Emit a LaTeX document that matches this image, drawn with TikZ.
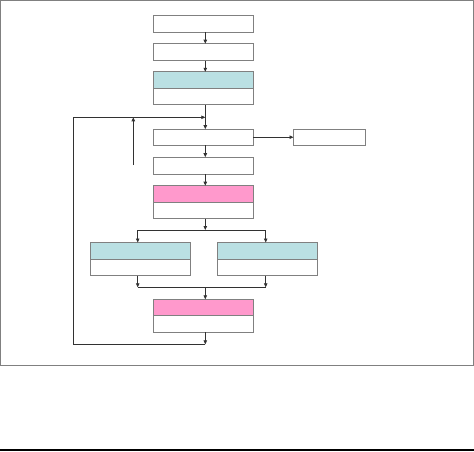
\documentclass[tikz,border=0pt]{standalone}
\usetikzlibrary{arrows.meta}
\definecolor{boxblue}{RGB}{186,224,227}
\definecolor{boxpink}{RGB}{255,153,204}
\definecolor{boxline}{RGB}{128,128,128}
\definecolor{conline}{RGB}{50,50,50}
\begin{document}
\begin{tikzpicture}[x=1pt,y=-1pt,
  box/.style={draw=boxline,line width=0.9pt,fill=white,minimum width=100pt,inner sep=0pt,outer sep=0pt},
  onebox/.style={box,minimum height=17pt},
  twobox/.style={box,minimum height=33pt},
  con/.style={draw=conline,line width=0.8pt},
  arr/.style={con,-{Triangle[length=4pt,width=3.5pt]}}]
\useasboundingbox (0,0) rectangle (474,451);
\draw[boxline,line width=1pt] (0.5,0.5) rectangle (473.5,365);
\draw[black,line width=1.5pt] (0,450) -- (474,450);
% boxes
\node[onebox] (b1) at (203.3,23.5) {};
\node[onebox] (b2) at (203.3,52.2) {};
\node[twobox] (b3) at (203.3,88.3) {};
\node[onebox,minimum height=16pt] (b4) at (203.3,137.2) {};
\node[onebox,minimum height=16pt,minimum width=72pt] (r) at (329.5,137.2) {};
\node[onebox] (b5) at (203.3,165.7) {};
\node[twobox] (b6) at (203.3,202.2) {};
\node[twobox] (b7) at (140,259) {};
\node[twobox] (b8) at (267.5,259) {};
\node[twobox] (b9) at (203.3,315.8) {};
% coloured top halves
\foreach \n/\c in {b3/boxblue,b6/boxpink,b7/boxblue,b8/boxblue,b9/boxpink}{
  \fill[\c] (\n.north west) rectangle (\n.east);
  \draw[boxline,line width=0.9pt] (\n.north west) rectangle (\n.south east);
  \draw[boxline,line width=0.9pt] (\n.west) -- (\n.east);
}
% junction coordinates
\coordinate (jtop) at (205.3,117.3);
\coordinate (jsplit) at (205.3,230);
\coordinate (jmerge) at (205.3,287.3);
\coordinate (jbot) at (205.3,344.3);
\coordinate (fl) at (73.3,344.3);
\coordinate (ft) at (73.3,117.3);
\coordinate (upb) at (133.3,165);
\coordinate (upt) at (133.3,117.3);
\coordinate (sl) at (137.7,230);
\coordinate (sr) at (265.7,230);
\coordinate (ml) at (137.7,287.3);
\coordinate (mr) at (265.7,287.3);
% connectors
\draw[arr] ([xshift=2pt]b1.south) -- ([xshift=2pt]b2.north);
\draw[arr] ([xshift=2pt]b2.south) -- ([xshift=2pt]b3.north);
\draw[arr] ([xshift=2pt]b3.south) -- ([xshift=2pt]b4.north);
\draw[arr] (b4.east) -- (r.west);
\draw[arr] ([xshift=2pt]b4.south) -- ([xshift=2pt]b5.north);
\draw[arr] ([xshift=2pt]b5.south) -- ([xshift=2pt]b6.north);
\draw[arr] ([xshift=2pt]b6.south) -- (jsplit);
\draw[con] (sl) -- (sr);
\draw[arr] (sl) -- (sl |- b7.north);
\draw[arr] (sr) -- (sr |- b8.north);
\draw[arr] (ml |- b7.south) -- (ml);
\draw[arr] (mr |- b8.south) -- (mr);
\draw[con] (ml) -- (mr);
\draw[arr] (jmerge) -- ([xshift=2pt]b9.north);
\draw[arr] ([xshift=2pt]b9.south) -- (jbot);
\draw[arr] (jbot) -- (fl) -- (ft) -- (jtop);
\draw[arr] (upb) -- (upt);
\end{tikzpicture}
\end{document}
